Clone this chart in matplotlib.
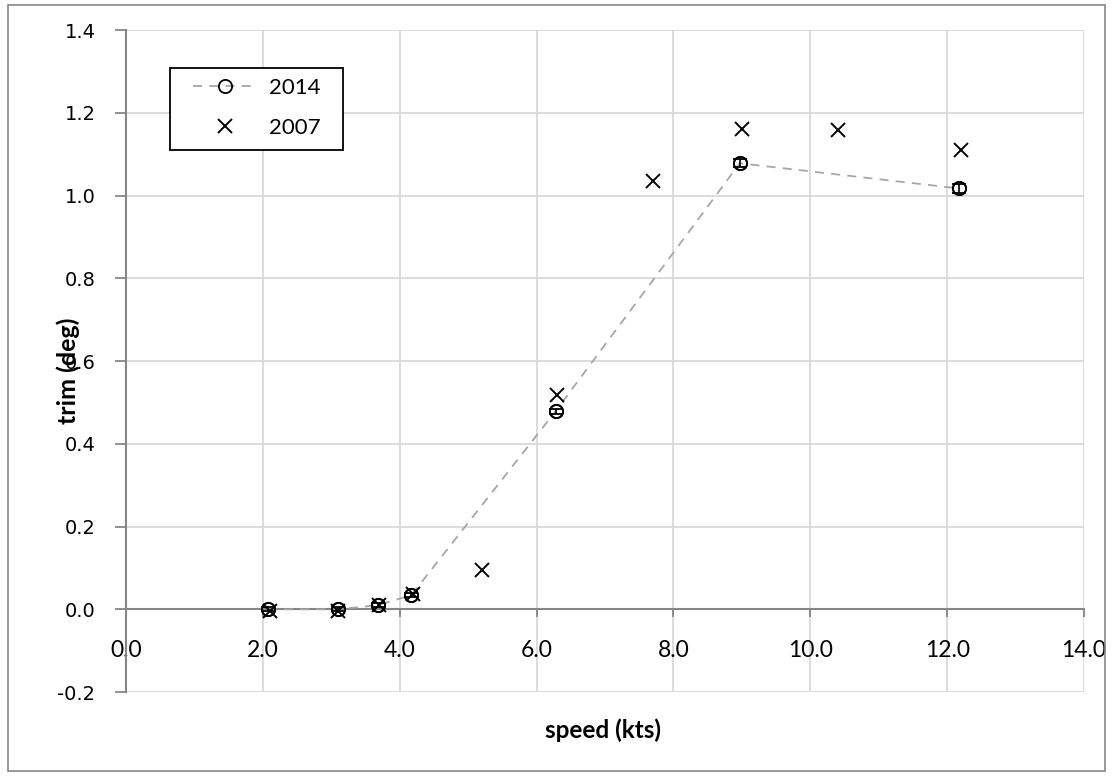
import numpy as np
import matplotlib.pyplot as plt
from matplotlib.patches import Rectangle

# 2014 measurements (with small error bars)
speed_2014 = [2.07, 3.1, 3.68, 4.17, 6.28, 8.97, 12.18]
trim_2014 = [0.0, 0.0, 0.01, 0.034, 0.479, 1.078, 1.017]
err_2014 = [0.005, 0.005, 0.005, 0.005, 0.006, 0.01, 0.012]

# 2007 measurements
speed_2007 = [2.1, 3.1, 3.7, 4.2, 5.2, 6.3, 7.7, 9.0, 10.4, 12.21]
trim_2007 = [-0.005, -0.003, 0.01, 0.038, 0.094, 0.517, 1.035, 1.162, 1.158, 1.111]

xticks = np.arange(0, 14.1, 2.0)
yticks = np.arange(-0.2, 1.41, 0.2)

plt.rcParams['font.family'] = ['DejaVu Sans']

fig = plt.figure(figsize=(11.12, 7.76), dpi=100)
ax = fig.add_axes([0.1133, 0.1082, 0.8615, 0.8531])

# x axis crosses at y = 0 (set before styling ticks, it resets them)
for s in ['top', 'right']:
    ax.spines[s].set_visible(False)
ax.spines['bottom'].set_position(('data', 0))

ax.errorbar(speed_2014, trim_2014, yerr=err_2014, fmt='o', color='black',
            mfc='none', mec='black', ms=9.5, mew=1.3, ecolor='black',
            elinewidth=1.2, capsize=5, zorder=4)
line14, = ax.plot(speed_2014, trim_2014, linestyle='--', color='#a6a6a6',
                  lw=1.3, dashes=(5, 4), marker='o', mfc='none', mec='black',
                  ms=9.5, mew=1.3, zorder=3, label='2014')
pts07, = ax.plot(speed_2007, trim_2007, linestyle='none', marker='x',
                 color='black', ms=10.5, mew=1.4, zorder=5, label='2007')

ax.set_xlim(0, 14)
ax.set_ylim(-0.2, 1.4)
ax.set_xticks(xticks, ['%.1f' % v for v in xticks])
ax.set_yticks(yticks, ['%.1f' % v for v in yticks])

ax.grid(True, color='#d9d9d9', lw=1.3)
ax.set_axisbelow(True)

ax.spines['bottom'].set_color('#868686')
ax.spines['bottom'].set_linewidth(1.5)
ax.spines['left'].set_color('#868686')
ax.spines['left'].set_linewidth(1.5)
ax.tick_params(axis='x', direction='out', length=6, color='#868686', width=1.3,
               pad=16, labelsize=16.5)
ax.tick_params(axis='y', direction='out', length=8, color='#868686', width=1.3,
               pad=14, labelsize=14)
for lbl in ax.get_xticklabels():
    lbl.set_family('Lato')

fig.text(0.5423, 0.059, 'speed (kts)', ha='center', va='center',
         fontsize=17.5, fontweight='bold', family='Lato')
fig.text(0.0612, 0.522, 'trim (deg)', ha='center', va='center', rotation=90,
         fontsize=18, fontweight='bold', family='Lato')

# legend box drawn by hand (square, tight vertical padding)
box = Rectangle((170 / 1112, 1 - 150 / 776), 173 / 1112, 82 / 776,
                transform=fig.transFigure, facecolor='white',
                edgecolor='black', lw=1.3, zorder=6, clip_on=False)
ax.add_patch(box)
leg = ax.legend(handles=[line14, pts07], loc='upper left',
                bbox_to_anchor=(193 / 1112, 1 - 78 / 776), bbox_transform=fig.transFigure,
                frameon=False, prop={'family': 'Lato', 'size': 16},
                handlelength=2.9, borderpad=0, borderaxespad=0,
                labelspacing=0.9, handletextpad=0.5)
leg.set_zorder(7)

fig.patches.append(Rectangle((0.007, 0.006), 0.987, 0.988, transform=fig.transFigure,
                             fill=False, edgecolor='#868686', lw=1.2))

fig.savefig('out.png', dpi=100)
